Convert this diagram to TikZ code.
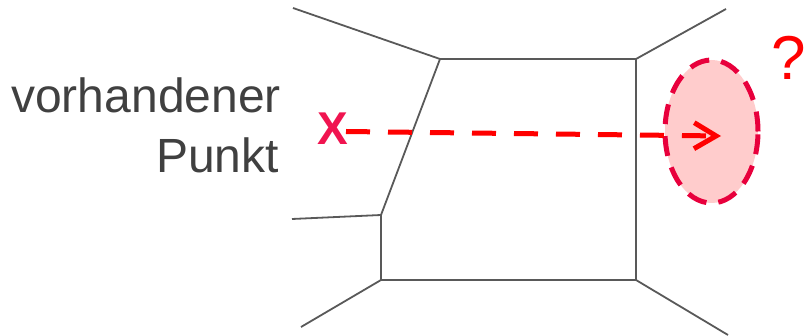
\documentclass[tikz,border=0pt]{standalone}
\usepackage{fontspec}
\setmainfont{Liberation Sans}
\usetikzlibrary{arrows.meta,shapes.geometric}
\definecolor{edgegray}{HTML}{595959}
\definecolor{txtgray}{HTML}{404040}
\definecolor{crimson}{RGB}{232,0,60}
\definecolor{xred}{RGB}{240,20,80}
\definecolor{pinkfill}{HTML}{FFCCCC}
\definecolor{qred}{HTML}{FF0000}
\tikzset{
  edge/.style={draw=edgegray,line width=1.8pt,line join=miter},
  label/.style={text=txtgray,font=\fontsize{48}{48}\selectfont,inner sep=0pt},
  region/.style={ellipse,draw=crimson,fill=pinkfill,line width=5pt,dash pattern=on 20pt off 12pt,minimum width=93pt,minimum height=143pt,inner sep=0pt},
  movearrow/.style={draw=qred,line width=5pt,dash pattern=on 24pt off 18pt,-{Straight Barb[length=22pt,width=26pt,line width=5pt]}}
}
\begin{document}
\begin{tikzpicture}[x=1pt,y=-1pt]
\useasboundingbox (0,0) rectangle (805,336);
% cell corners
\coordinate (tl) at (440,59);
\coordinate (tr) at (636,59);
\coordinate (br) at (636,280);
\coordinate (bl) at (381,280);
\coordinate (ml) at (381,215);
% outer ends
\coordinate (o1) at (293,8);
\coordinate (o2) at (726,9);
\coordinate (o3) at (292,219);
\coordinate (o4) at (301,327);
\coordinate (o5) at (728,335);
\draw[edge] (tl) -- (tr) -- (br) -- (bl) -- (ml) -- cycle;
\draw[edge] (tl) -- (o1);
\draw[edge] (tr) -- (o2);
\draw[edge] (ml) -- (o3);
\draw[edge] (bl) -- (o4);
\draw[edge] (br) -- (o5);
% labels
\node[label,anchor=base east] (l1) at (281,113) {vorhandener};
\node[label,anchor=base east] (l2) at (279,173) {Punkt};
\node[text=xred,font=\fontsize{46}{46}\selectfont\bfseries,inner sep=0pt,anchor=base] (xp) at (333,145) {X};
\node[region] (reg) at (711.5,131.5) {};
\node[text=qred,font=\fontsize{62}{62}\selectfont,inner sep=0pt,anchor=base] (q) at (789,80) {?};
\coordinate (start) at (346,131.5);
\coordinate (tip) at (721,136);
\draw[movearrow] (start) -- (tip);
\end{tikzpicture}
\end{document}
